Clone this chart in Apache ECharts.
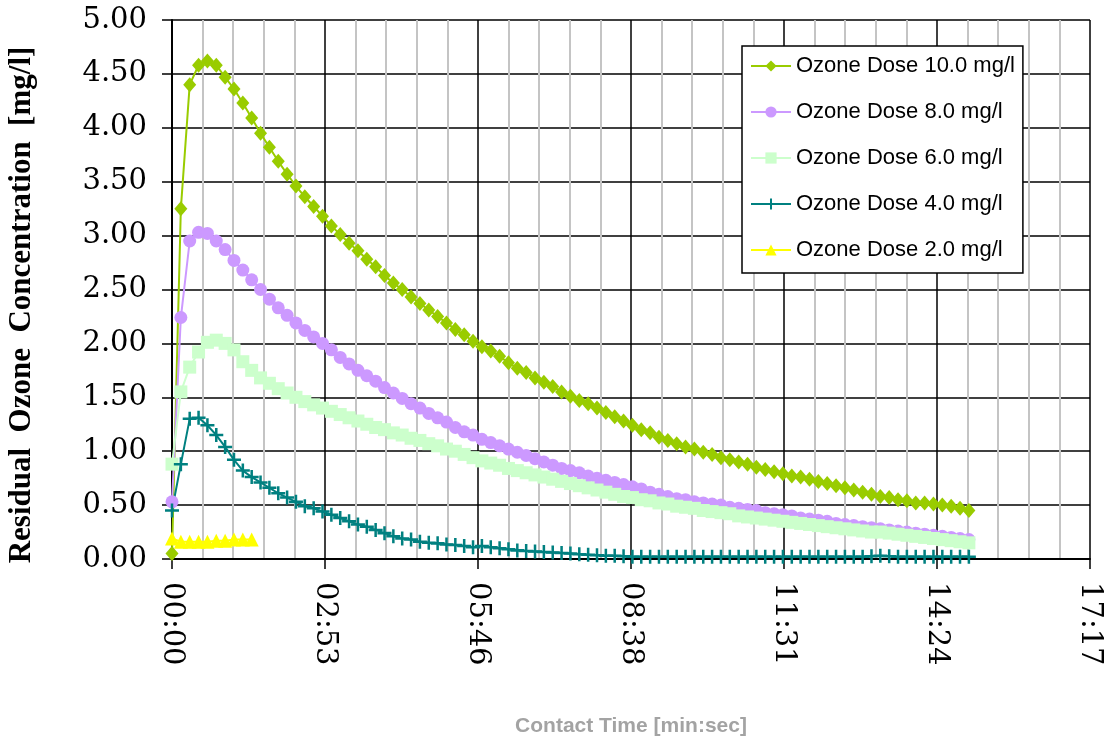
<!DOCTYPE html>
<html>
<head>
<meta charset="utf-8">
<script src="https://cdn.jsdelivr.net/npm/echarts@6/dist/echarts.min.js"></script>
<style>
  html, body { margin: 0; padding: 0; background: #fff; }
  #chart { width: 1104px; height: 739px; }
</style>
</head>
<body>
<div id="chart"></div>
<script>
// contact time in seconds, one reading every 10 s
const times = [
  0, 10, 20, 30, 40, 50, 60, 70, 80, 90,
  100, 110, 120, 130, 140, 150, 160, 170, 180, 190,
  200, 210, 220, 230, 240, 250, 260, 270, 280, 290,
  300, 310, 320, 330, 340, 350, 360, 370, 380, 390,
  400, 410, 420, 430, 440, 450, 460, 470, 480, 490,
  500, 510, 520, 530, 540, 550, 560, 570, 580, 590,
  600, 610, 620, 630, 640, 650, 660, 670, 680, 690,
  700, 710, 720, 730, 740, 750, 760, 770, 780, 790,
  800, 810, 820, 830, 840, 850, 860, 870, 880, 890,
  900
];

const dose10 = [
  0.05, 3.25, 4.40, 4.58, 4.62, 4.58, 4.47, 4.36, 4.23, 4.09,
  3.95, 3.82, 3.69, 3.57, 3.46, 3.36, 3.27, 3.18, 3.09, 3.01,
  2.93, 2.86, 2.78, 2.71, 2.63, 2.56, 2.50, 2.43, 2.37, 2.31,
  2.25, 2.19, 2.13, 2.08, 2.02, 1.97, 1.93, 1.88, 1.82, 1.77,
  1.73, 1.68, 1.64, 1.60, 1.55, 1.51, 1.47, 1.44, 1.40, 1.36,
  1.32, 1.28, 1.24, 1.20, 1.17, 1.13, 1.10, 1.07, 1.04, 1.02,
  0.99, 0.97, 0.94, 0.92, 0.90, 0.88, 0.85, 0.83, 0.81, 0.79,
  0.77, 0.76, 0.74, 0.72, 0.70, 0.68, 0.66, 0.64, 0.62, 0.60,
  0.58, 0.57, 0.55, 0.54, 0.52, 0.52, 0.51, 0.50, 0.49, 0.47,
  0.45
];

const dose8 = [
  0.53, 2.24, 2.95, 3.03, 3.02, 2.95, 2.87, 2.77, 2.68, 2.59,
  2.50, 2.41, 2.33, 2.26, 2.19, 2.12, 2.06, 2.00, 1.94, 1.87,
  1.81, 1.75, 1.70, 1.65, 1.59, 1.54, 1.49, 1.44, 1.40, 1.35,
  1.31, 1.27, 1.22, 1.18, 1.15, 1.11, 1.08, 1.05, 1.02, 0.99,
  0.96, 0.93, 0.90, 0.87, 0.84, 0.82, 0.80, 0.77, 0.75, 0.73,
  0.71, 0.69, 0.67, 0.65, 0.62, 0.60, 0.58, 0.56, 0.55, 0.53,
  0.52, 0.51, 0.50, 0.48, 0.47, 0.46, 0.45, 0.43, 0.42, 0.41,
  0.40, 0.38, 0.37, 0.36, 0.35, 0.33, 0.32, 0.31, 0.30, 0.29,
  0.28, 0.27, 0.26, 0.25, 0.24, 0.23, 0.22, 0.21, 0.20, 0.19,
  0.18
];

const dose6 = [
  0.88, 1.55, 1.78, 1.92, 2.01, 2.03, 2.00, 1.94, 1.83, 1.75,
  1.68, 1.63, 1.58, 1.54, 1.50, 1.46, 1.43, 1.40, 1.37, 1.34,
  1.31, 1.28, 1.25, 1.22, 1.20, 1.17, 1.15, 1.12, 1.10, 1.07,
  1.05, 1.02, 1.00, 0.97, 0.94, 0.91, 0.89, 0.87, 0.84, 0.82,
  0.80, 0.78, 0.76, 0.74, 0.72, 0.70, 0.68, 0.66, 0.64, 0.62,
  0.60, 0.58, 0.57, 0.55, 0.54, 0.52, 0.51, 0.49, 0.48, 0.47,
  0.45, 0.44, 0.43, 0.42, 0.40, 0.39, 0.38, 0.37, 0.36, 0.35,
  0.34, 0.33, 0.32, 0.31, 0.30, 0.29, 0.28, 0.27, 0.26, 0.25,
  0.25, 0.24, 0.23, 0.22, 0.21, 0.20, 0.19, 0.18, 0.17, 0.16,
  0.15
];

const dose4 = [
  0.45, 0.88, 1.30, 1.31, 1.24, 1.15, 1.04, 0.92, 0.82, 0.76,
  0.71, 0.66, 0.61, 0.57, 0.53, 0.49, 0.47, 0.44, 0.41, 0.38,
  0.35, 0.32, 0.30, 0.27, 0.24, 0.21, 0.19, 0.18, 0.16, 0.15,
  0.145, 0.135, 0.13, 0.12, 0.11, 0.12, 0.11, 0.10, 0.09, 0.08,
  0.075, 0.07, 0.065, 0.06, 0.055, 0.05, 0.045, 0.04, 0.035, 0.03,
  0.03, 0.025, 0.02, 0.02, 0.02, 0.02, 0.02, 0.02, 0.02, 0.02,
  0.02, 0.02, 0.02, 0.02, 0.02, 0.02, 0.02, 0.02, 0.02, 0.02,
  0.02, 0.02, 0.02, 0.02, 0.02, 0.02, 0.02, 0.02, 0.02, 0.025,
  0.03, 0.025, 0.02, 0.02, 0.02, 0.02, 0.02, 0.02, 0.02, 0.02,
  0.02
];

const dose2 = [0.19, 0.16, 0.16, 0.16, 0.16, 0.17, 0.17, 0.18, 0.18, 0.18];

const seriesNames = [
  'Ozone Dose 10.0 mg/l',
  'Ozone Dose 8.0 mg/l',
  'Ozone Dose 6.0 mg/l',
  'Ozone Dose 4.0 mg/l',
  'Ozone Dose 2.0 mg/l'
];

const xTickLabels = ['00:00', '02:53', '05:46', '08:38', '11:31', '14:24', '17:17'];
const xStep = 172.8; // 0.002 day in seconds

const chart = echarts.init(document.getElementById('chart'), null, { renderer: 'canvas' });

function pairs(vals) {
  return vals.map((v, i) => [times[i], v]);
}

const plus = 'path://M4.1,0h1.8v10h-1.8z M0,4.1h10v1.8h-10z';

function lineSeries(name, vals, color, symbol, size) {
  return {
    name: name,
    type: 'line',
    data: pairs(vals),
    symbol: symbol,
    symbolSize: size,
    showAllSymbol: true,
    animation: false,
    lineStyle: { color: color, width: 2 },
    itemStyle: { color: color, borderWidth: 0 }
  };
}

const option = {
  backgroundColor: '#fff',
  animation: false,
  grid: { left: 172, right: 14, top: 20, bottom: 180, outerBoundsMode: 'none', containLabel: false },
  legend: {
    orient: 'vertical',
    left: 742,
    top: 46,
    backgroundColor: '#fff',
    borderColor: '#000',
    borderWidth: 1.5,
    borderRadius: 0,
    padding: [8, 8, 11, 8],
    itemWidth: 40,
    itemHeight: 14,
    itemGap: 22,
    textStyle: { fontFamily: 'Liberation Sans', fontSize: 22, lineHeight: 24, color: '#000' },
    data: seriesNames
  },
  graphic: [{
    type: 'text',
    x: 22,
    y: 305,
    rotation: Math.PI / 2,
    style: {
      text: 'Residual  Ozone  Concentration  [mg/l]',
      fontFamily: 'Liberation Serif',
      fontSize: 31,
      fontWeight: 'bold',
      fill: '#000',
      align: 'center',
      verticalAlign: 'middle'
    }
  }],
  xAxis: {
    type: 'value',
    min: 0,
    max: 1036.8,
    interval: xStep,
    name: 'Contact Time [min:sec]',
    nameLocation: 'middle',
    nameGap: 157,
    nameTextStyle: { fontFamily: 'Liberation Sans', fontSize: 21, fontWeight: 'bold', color: '#a3a3a3' },
    axisLine: { onZero: false, lineStyle: { color: '#000', width: 2 } },
    axisTick: { show: true, inside: false, length: 10, lineStyle: { color: '#000', width: 1.5 } },
    axisLabel: {
      rotate: -90,
      margin: 23,
      fontFamily: 'DejaVu Serif',
      fontSize: 29,
      color: '#000',
      formatter: v => xTickLabels[Math.round(v / xStep)]
    },
    splitLine: { show: true, lineStyle: { color: '#000', width: 1.5 } },
    minorTick: { show: false, splitNumber: 5 },
    minorSplitLine: { show: true, lineStyle: { color: '#c4c4c4', width: 2 } }
  },
  yAxis: {
    type: 'value',
    min: 0,
    max: 5,
    interval: 0.5,
    axisLine: { show: true, lineStyle: { color: '#000', width: 2 } },
    axisTick: { show: true, inside: false, length: 10, lineStyle: { color: '#000', width: 1.5 } },
    axisLabel: {
      margin: 25,
      fontFamily: 'DejaVu Serif',
      fontSize: 29,
      color: '#000',
      formatter: v => v.toFixed(2)
    },
    splitLine: { show: true, lineStyle: { color: '#000', width: 1.5 } }
  },
  series: [
    lineSeries(seriesNames[0], dose10, '#99cc00', 'diamond', [13, 15]),
    lineSeries(seriesNames[1], dose8, '#cc99ff', 'circle', 13),
    lineSeries(seriesNames[2], dose6, '#ccffcc', 'rect', 13),
    lineSeries(seriesNames[3], dose4, '#008080', plus, 14),
    lineSeries(seriesNames[4], dose2, '#ffff00', 'triangle', 14)
  ]
};

chart.setOption(option);
</script>
</body>
</html>
